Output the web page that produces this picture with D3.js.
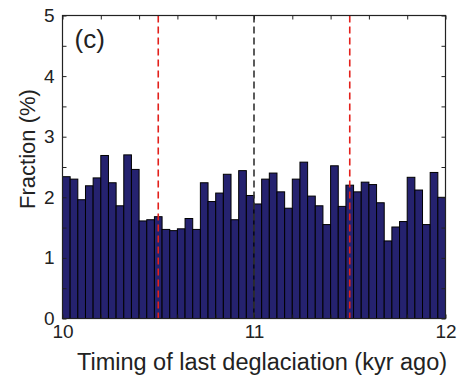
<!DOCTYPE html>
<html>
<head>
<meta charset="utf-8">
<script src="https://cdn.jsdelivr.net/npm/d3@7"></script>
<style>
  body { margin: 0; background: #fff; }
  text { font-family: Arial, "Liberation Sans", Helvetica, sans-serif; fill: #222; }
</style>
</head>
<body>
<div id="chart"></div>
<script>
// histogram bin starts (kyr ago), bin width 0.04
const binStart = 10, binWidth = 0.04;
const fractions = [
  2.34, 2.30, 1.96, 2.19, 2.32, 2.69, 2.24, 1.86, 2.70, 2.46,
  1.61, 1.63, 1.68, 1.47, 1.45, 1.48, 1.65, 1.47, 2.24, 1.93,
  2.07, 2.38, 1.63, 2.44, 2.03, 1.89, 2.30, 2.40, 2.09, 1.82,
  2.30, 2.58, 2.02, 1.86, 1.55, 2.52, 1.85, 2.20, 2.09, 2.25,
  2.21, 1.91, 1.28, 1.51, 1.60, 2.33, 2.12, 1.55, 2.41, 2.00
];
const xTickLabels = [10, 11, 12];
const yTickLabels = [0, 1, 2, 3, 4, 5];
const redLines = [10.5, 11.5];
const blackLines = [11];

const margin = {top: 15.5, right: 16.5, bottom: 63.5, left: 62.5},
      width = 462 - margin.left - margin.right,
      height = 382 - margin.top - margin.bottom;

const svg = d3.select('#chart').append('svg')
    .attr('width', 462)
    .attr('height', 382);

const g = svg.append('g')
    .attr('transform', 'translate(' + margin.left + ',' + margin.top + ')');

const xScale = d3.scaleLinear().domain([10, 12]).range([0, width]),
      yScale = d3.scaleLinear().domain([0, 5]).range([height, 0]);

const bins = fractions.map(function(v, i) {
  return {x0: binStart + i * binWidth, x1: binStart + (i + 1) * binWidth, value: v};
});

g.selectAll('rect.bar')
    .data(bins)
  .enter().append('rect')
    .attr('class', 'bar')
    .attr('x', function(d) { return xScale(d.x0); })
    .attr('width', function(d) { return xScale(d.x1) - xScale(d.x0); })
    .attr('y', function(d) { return yScale(d.value); })
    .attr('height', function(d) { return height - yScale(d.value); })
    .attr('fill', '#25226f')
    .attr('stroke', '#000')
    .attr('stroke-width', 1);

// dashed reference lines
g.selectAll('line.red')
    .data(redLines)
  .enter().append('line')
    .attr('x1', function(d) { return xScale(d); })
    .attr('x2', function(d) { return xScale(d); })
    .attr('y1', 0).attr('y2', height)
    .attr('stroke', '#e3201b')
    .attr('stroke-width', 1.6)
    .attr('stroke-dasharray', '7,4');

g.selectAll('line.black')
    .data(blackLines)
  .enter().append('line')
    .attr('x1', function(d) { return xScale(d); })
    .attr('x2', function(d) { return xScale(d); })
    .attr('y1', 0).attr('y2', height)
    .attr('stroke', '#333')
    .attr('stroke-width', 1.6)
    .attr('stroke-dasharray', '7,4');

// inward ticks on all four sides
const xTicks = d3.range(10, 12.001, 0.2),
      yTicks = d3.range(0, 5.001, 0.5);
const tickLen = 4;

function drawAxis(axis, transform) {
  const a = g.append('g')
      .attr('transform', transform)
      .call(axis);
  a.select('.domain').remove();
  a.selectAll('line').attr('stroke', '#222');
  a.selectAll('text')
      .style('font-size', '19px')
      .attr('fill', '#222');
  return a;
}

drawAxis(d3.axisBottom(xScale).tickValues(xTicks).tickSizeInner(-tickLen).tickPadding(6)
    .tickFormat(function(d) { return xTickLabels.some(function(t) { return Math.abs(t - d) < 1e-6; }) ? d3.format('d')(d) : ''; }),
    'translate(0,' + height + ')');
drawAxis(d3.axisTop(xScale).tickValues(xTicks).tickSizeInner(-tickLen).tickFormat(''),
    'translate(0,0)');
drawAxis(d3.axisLeft(yScale).tickValues(yTicks).tickSizeInner(-tickLen).tickPadding(8)
    .tickFormat(function(d) { return yTickLabels.indexOf(d) >= 0 ? d : ''; }),
    'translate(0,0)');
drawAxis(d3.axisRight(yScale).tickValues(yTicks).tickSizeInner(-tickLen).tickFormat(''),
    'translate(' + width + ',0)');

// box
g.append('rect')
    .attr('width', width)
    .attr('height', height)
    .attr('fill', 'none')
    .attr('stroke', '#222')
    .attr('stroke-width', 1.2);

g.append('text')
    .attr('x', 12)
    .attr('y', 32)
    .style('font-size', '26px')
    .text('(c)');

svg.append('text')
    .attr('x', 262)
    .attr('y', 370)
    .style('text-anchor', 'middle')
    .style('font-size', '23.5px')
    .text('Timing of last deglaciation (kyr ago)');

svg.append('text')
    .attr('transform', 'translate(35,149) rotate(-90)')
    .style('text-anchor', 'middle')
    .style('font-size', '22px')
    .text('Fraction (%)');
</script>
</body>
</html>
